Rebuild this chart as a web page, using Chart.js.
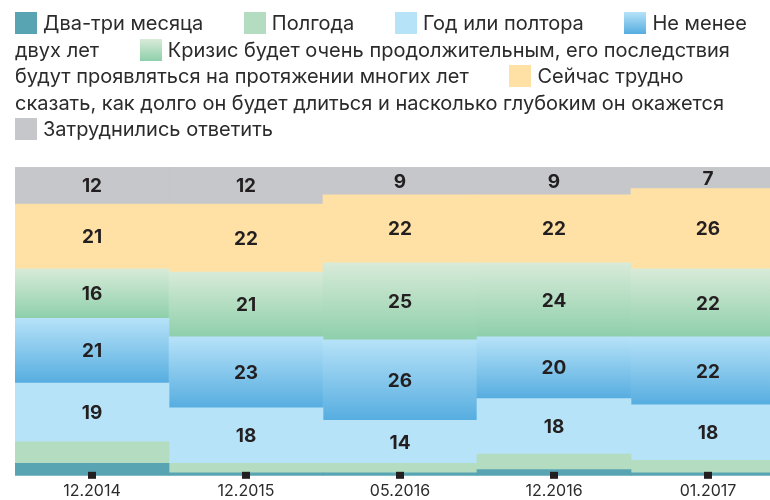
<!DOCTYPE html>
<html>
<head>
<meta charset="utf-8">
<script src="https://cdn.jsdelivr.net/npm/chart.js"></script>
<style>
  body { margin: 0; width: 770px; height: 500px; overflow: hidden; background: #fff; position: relative; }
  #chartWrap { position: absolute; left: 0; top: 0; width: 800px; height: 500px; }
  #legend {
    position: absolute; left: 0; top: 10px; width: 745px; padding-left: 15px;
    font-family: Inter, Roboto, sans-serif; font-size: 20px; line-height: 26.5px; color: #2b2b2b;
  }
  #legend .item { margin-right: 35px; }
  #legend .sw { display: inline-block; width: 22px; height: 22px; vertical-align: -4px; margin-right: 6px; }
</style>
</head>
<body>
<div id="chartWrap"><canvas id="chart" width="800" height="500"></canvas></div>
<div id="legend"></div>
<script>
// survey waves
var categories = ['12.2014', '12.2015', '05.2016', '12.2016', '01.2017'];

// answers, bottom of the stack first
var seriesNames = [
  'Два-три месяца',
  'Полгода',
  'Год или полтора',
  'Не менее двух лет',
  'Кризис будет очень продолжительным, его последствия будут проявляться на протяжении многих лет',
  'Сейчас трудно сказать, как долго он будет длиться и насколько глубоким он окажется',
  'Затруднились ответить'
];

var twoThreeMonths = [4, 1, 1, 2, 1];
var halfYear       = [7, 3, 3, 5, 4];
var yearOrMore     = [19, 18, 14, 18, 18];
var twoYears       = [21, 23, 26, 20, 22];
var manyYears      = [16, 21, 25, 24, 22];
var hardToSay      = [21, 22, 22, 22, 26];
var noAnswer       = [12, 12, 9, 9, 7];

var allSeries = [twoThreeMonths, halfYear, yearOrMore, twoYears, manyYears, hardToSay, noAnswer];
// only these get numbers printed on them
var showValues = [false, false, true, true, true, true, true];

// flat colour or [top, bottom] for the gradient ones
var colors = [
  '#59a4b3',
  '#b3dcc1',
  '#b7e3f8',
  ['#b6e2f8', '#56ade0'],
  ['#d8ebd8', '#8ecfab'],
  '#ffe0a5',
  '#c6c7ca'
];

function makeFill(idx) {
  var c = colors[idx];
  if (typeof c === 'string') return c;
  return function(context) {
    var chart = context.chart;
    if (!chart.chartArea || context.dataIndex === undefined) return c[1];
    var y = chart.scales.y;
    var i = context.dataIndex;
    var start = 0;
    for (var k = 0; k < idx; k++) start += allSeries[k][i];
    var top = y.getPixelForValue(start + allSeries[idx][i]);
    var bottom = y.getPixelForValue(start);
    var g = chart.ctx.createLinearGradient(0, top, 0, bottom);
    g.addColorStop(0, c[0]);
    g.addColorStop(1, c[1]);
    return g;
  };
}

var datasets = [];
for (var i = 0; i < allSeries.length; i++) {
  datasets.push({
    label: seriesNames[i],
    data: allSeries[i],
    backgroundColor: makeFill(i),
    borderWidth: 0,
    barPercentage: 1,
    categoryPercentage: 1
  });
}

// html legend, text flows and wraps like in the original
var legendHtml = '';
for (var i = 0; i < seriesNames.length; i++) {
  var c = colors[i];
  var bg = typeof c === 'string' ? c : 'linear-gradient(' + c[0] + ',' + c[1] + ')';
  legendHtml += '<span class="item"><span class="sw" style="background:' + bg + '"></span>' + seriesNames[i] + '</span> ';
}
document.getElementById('legend').innerHTML = legendHtml;

var valueLabels = {
  id: 'valueLabels',
  afterDatasetsDraw: function(chart) {
    var ctx = chart.ctx;
    ctx.save();
    ctx.font = 'bold 19px Inter, Roboto, sans-serif';
    ctx.fillStyle = '#231f20';
    ctx.textAlign = 'center';
    ctx.textBaseline = 'middle';
    chart.data.datasets.forEach(function(ds, d) {
      if (!showValues[d]) return;
      chart.getDatasetMeta(d).data.forEach(function(bar, i) {
        ctx.fillText(ds.data[i], bar.x, (bar.y + bar.base) / 2 + 1);
      });
    });
    ctx.restore();
  }
};

// small black squares under each column
var tickSquares = {
  id: 'tickSquares',
  afterDatasetsDraw: function(chart) {
    var ctx = chart.ctx;
    var x = chart.scales.x;
    var bottom = chart.chartArea.bottom;
    ctx.save();
    ctx.fillStyle = '#231f20';
    for (var i = 0; i < categories.length; i++) {
      var px = x.getPixelForValue(i);
      ctx.fillRect(Math.round(px) - 4, bottom - 4, 8, 7);
    }
    ctx.restore();
  }
};

new Chart(document.getElementById('chart'), {
  type: 'bar',
  data: { labels: categories, datasets: datasets },
  options: {
    responsive: false,
    animation: false,
    layout: { padding: { left: 15, right: 15, top: 167, bottom: -7 } },
    plugins: { legend: { display: false }, tooltip: { enabled: false } },
    scales: {
      x: {
        stacked: true,
        grid: { display: false, drawTicks: false },
        border: { display: false },
        ticks: { color: '#2b2b2b', font: { family: 'Inter, Roboto, sans-serif', size: 16 }, padding: 6, maxRotation: 0 }
      },
      y: { stacked: true, display: false, min: 0, max: 100 }
    }
  },
  plugins: [valueLabels, tickSquares]
});
</script>
</body>
</html>
